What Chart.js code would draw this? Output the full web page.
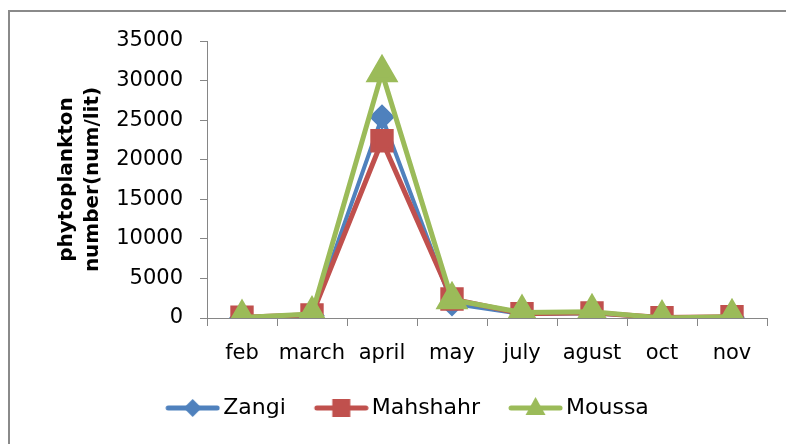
<!DOCTYPE html>
<html>
<head>
<meta charset="utf-8">
<script src="https://cdn.jsdelivr.net/npm/chart.js@4/dist/chart.umd.min.js"></script>
<style>
  body { margin: 0; background: #fff; overflow: hidden; }
  #wrap { position: relative; width: 786px; height: 444px; }
  #frame { position: absolute; left: 8px; top: 10px; width: 800px; height: 460px; border: 2px solid #8a8a8a; }
  #myCanvas { position: absolute; left: 0; top: 0; }
</style>
</head>
<body>
<div id="wrap">
  <div id="frame"></div>
  <canvas id="myCanvas" width="786" height="444"></canvas>
</div>
<script>
// meses y valores
const months = ["feb", "march", "april", "may", "july", "agust", "oct", "nov"];
const zangi = [50, 300, 25400, 1800, 500, 600, 50, 100];
const mahshahr = [100, 400, 22400, 2400, 550, 650, 50, 150];
const moussa = [50, 500, 31000, 2300, 700, 800, 0, 150];
const yTicks = [0, 5000, 10000, 15000, 20000, 25000, 30000, 35000];

const blue = "#4F81BD";
const red = "#C0504D";
const green = "#9BBB59";
const axisGray = "#868686";

Chart.defaults.font.family = "'DejaVu Sans', sans-serif";
Chart.defaults.color = "#000";

// icono de leyenda: linea + marcador (la linea va pegada al texto, a la derecha)
function legendIcon(color, style) {
    const c = document.createElement("canvas");
    c.width = 81;
    c.height = 24;
    const g = c.getContext("2d");
    const cx = 53.5;
    g.strokeStyle = color;
    g.fillStyle = color;
    g.lineWidth = 5;
    g.lineCap = "round";
    g.beginPath();
    g.moveTo(29, 12);
    g.lineTo(78, 12);
    g.stroke();
    g.beginPath();
    if (style === "diamond") {
        g.moveTo(cx, 3); g.lineTo(cx + 9, 12); g.lineTo(cx, 21); g.lineTo(cx - 9, 12);
    } else if (style === "square") {
        g.rect(cx - 9, 3, 18, 18);
    } else {
        g.moveTo(cx, 1); g.lineTo(cx + 10, 19); g.lineTo(cx - 10, 19);
    }
    g.closePath();
    g.fill();
    return c;
}

const icons = [legendIcon(blue, "diamond"), legendIcon(red, "square"), legendIcon(green, "triangle")];

const ctx = document.getElementById("myCanvas").getContext("2d");

const chart = new Chart(ctx, {
    type: "line",
    data: {
        labels: months,
        datasets: [
            {
                label: "Zangi",
                data: zangi,
                borderColor: blue,
                backgroundColor: blue,
                borderWidth: 4,
                pointStyle: "rectRot",
                pointRadius: 10,
                order: 3,
            },
            {
                label: "Mahshahr",
                data: mahshahr,
                borderColor: red,
                backgroundColor: red,
                borderWidth: 5,
                pointStyle: "rect",
                pointRadius: 13,
                order: 2,
            },
            {
                label: "Moussa",
                data: moussa,
                borderColor: green,
                backgroundColor: green,
                borderWidth: 5,
                pointStyle: "triangle",
                pointRadius: 14,
                order: 1,
            },
        ],
    },
    options: {
        responsive: false,
        animation: false,
        layout: { padding: { left: 28, top: 41, right: 18, bottom: 15 } },
        elements: {
            line: { tension: 0 },
            point: { borderWidth: 0, hoverRadius: 10 },
        },
        scales: {
            x: {
                offset: true,
                grid: { offset: true, drawOnChartArea: false, drawTicks: true, tickLength: 8, color: axisGray },
                border: { display: true, color: axisGray, width: 1 },
                ticks: { font: { size: 21 }, padding: 15, color: "#000", maxRotation: 0 },
                afterFit: (scale) => { scale.height = 69; },
            },
            y: {
                min: 0,
                max: 35000,
                afterBuildTicks: (scale) => { scale.ticks = yTicks.map((v) => ({ value: v })); },
                grid: { drawOnChartArea: false, drawTicks: true, tickLength: 7, color: axisGray },
                border: { display: true, color: axisGray, width: 1 },
                ticks: { font: { size: 21 }, padding: 17, color: "#000", callback: (v) => String(v) },
                title: {
                    display: true,
                    text: ["phytoplankton", "number(num/lit)"],
                    font: { size: 20, weight: "bold", lineHeight: 1.3 },
                    color: "#000",
                    padding: { top: 26, bottom: 0 },
                },
                afterFit: (scale) => { scale.width = 179; },
            },
        },
        plugins: {
            legend: {
                position: "bottom",
                labels: {
                    font: { size: 22 },
                    color: "#000",
                    usePointStyle: true,
                    pointStyleWidth: 65,
                    padding: 10,
                    sort: (a, b) => a.datasetIndex - b.datasetIndex,
                    generateLabels: (ch) => {
                        const items = Chart.defaults.plugins.legend.labels.generateLabels(ch);
                        items.forEach((it) => { it.pointStyle = icons[it.datasetIndex]; });
                        return items;
                    },
                },
            },
            tooltip: { enabled: false },
        },
    },
});
</script>
</body>
</html>
